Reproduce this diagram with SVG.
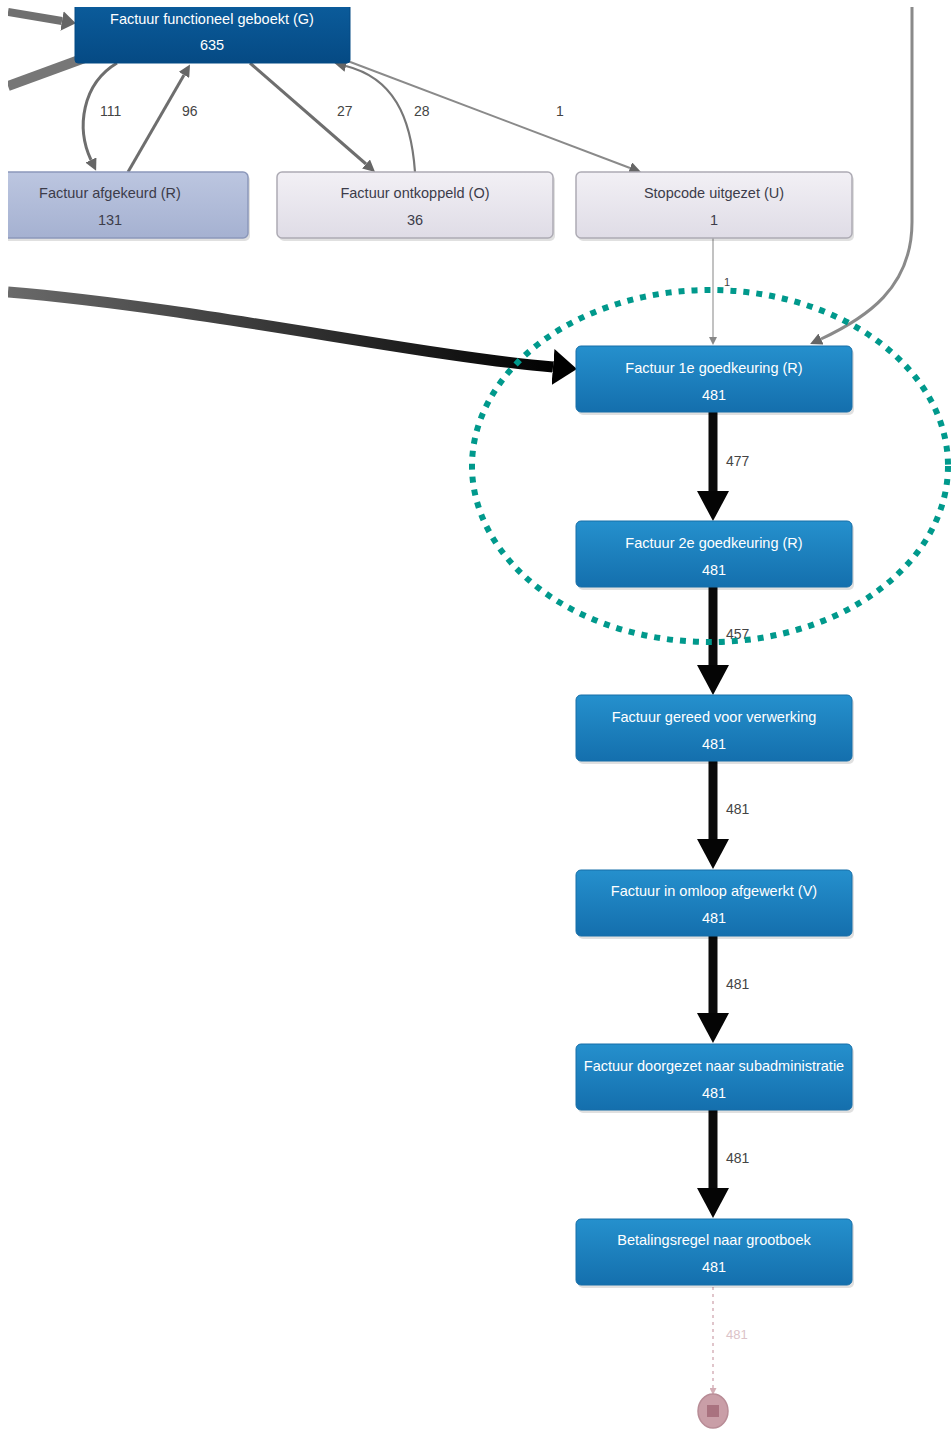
<svg xmlns="http://www.w3.org/2000/svg" width="951" height="1431" viewBox="0 0 951 1431">
  <defs>
    <linearGradient id="gBlue" x1="0" y1="0" x2="0" y2="1">
      <stop offset="0" stop-color="#2590cd"/>
      <stop offset="1" stop-color="#146fad"/>
    </linearGradient>
    <linearGradient id="gDark" x1="0" y1="0" x2="0" y2="1">
      <stop offset="0" stop-color="#0c5e9e"/>
      <stop offset="1" stop-color="#054a84"/>
    </linearGradient>
    <linearGradient id="gLav" x1="0" y1="0" x2="0" y2="1">
      <stop offset="0" stop-color="#bcc6e0"/>
      <stop offset="1" stop-color="#a5b1d1"/>
    </linearGradient>
    <linearGradient id="gGrey" x1="0" y1="0" x2="0" y2="1">
      <stop offset="0" stop-color="#f2f0f5"/>
      <stop offset="1" stop-color="#dfdce6"/>
    </linearGradient>
    <linearGradient id="gFlow" gradientUnits="userSpaceOnUse" x1="8" y1="0" x2="560" y2="0">
      <stop offset="0" stop-color="#6a6a6a"/>
      <stop offset="1" stop-color="#000"/>
    </linearGradient>
    <clipPath id="frame">
      <rect x="8" y="7" width="943" height="1424"/>
    </clipPath>
    <marker id="hBlack" markerUnits="userSpaceOnUse" markerWidth="30" markerHeight="32" viewBox="0 0 30 32" refX="0" refY="16" orient="auto">
      <path d="M0,0 L30,16 L0,32 z" fill="#050505"/>
    </marker>
    <marker id="hBlackL" markerUnits="userSpaceOnUse" markerWidth="24" markerHeight="36" viewBox="0 0 24 36" refX="0" refY="18" orient="auto">
      <path d="M0,0 L24,18 L0,36 z" fill="#000"/>
    </marker>
    <marker id="hGrey" markerUnits="userSpaceOnUse" markerWidth="12" markerHeight="12" viewBox="0 0 12 12" refX="0" refY="6" orient="auto">
      <path d="M0,0 L12,6 L0,12 z" fill="#666"/>
    </marker>
    <marker id="hGreyL" markerUnits="userSpaceOnUse" markerWidth="14" markerHeight="20" viewBox="0 0 14 20" refX="0" refY="10" orient="auto">
      <path d="M0,0 L14,10 L0,20 z" fill="#666"/>
    </marker>
    <marker id="hThin" markerUnits="userSpaceOnUse" markerWidth="8" markerHeight="8" viewBox="0 0 8 8" refX="0" refY="4" orient="auto">
      <path d="M0,0 L8,4 L0,8 z" fill="#888"/>
    </marker>
    <marker id="hPink" markerUnits="userSpaceOnUse" markerWidth="7" markerHeight="7" viewBox="0 0 7 7" refX="0" refY="3.5" orient="auto">
      <path d="M0,0 L7,3.5 L0,7 z" fill="#d3adb5"/>
    </marker>
    <style>
      .blue { fill: url(#gBlue); stroke: #176fa8; stroke-width: 1; }
      .dark { fill: url(#gDark); stroke: #054a84; stroke-width: 1; }
      .lav { fill: url(#gLav); stroke: #8c98ba; stroke-width: 1.5; }
      .grey { fill: url(#gGrey); stroke: #adabb4; stroke-width: 1.5; }
      .shadow { fill: #000; opacity: 0.12; }
      .lblW { font-family: "Liberation Sans", Arial, sans-serif; font-size: 14.5px; fill: #ffffff; text-anchor: middle; }
      .lblD { font-family: "Liberation Sans", Arial, sans-serif; font-size: 14.5px; fill: #3c3c4a; text-anchor: middle; }
      .edgeLbl { font-family: "Liberation Sans", Arial, sans-serif; font-size: 14px; fill: #444; }
      .flow { fill: none; stroke: #0a0a0a; stroke-width: 9; marker-end: url(#hBlack); }
      .side { fill: none; stroke: #6e6e6e; stroke-width: 3; }
    </style>
  </defs>

  <rect width="951" height="1431" fill="#ffffff"/>

  <g clip-path="url(#frame)">
    <!-- connectors -->
    <g id="connectors">
      <!-- incoming from the left into the booked node -->
      <path d="M8,12 L62,21" fill="none" stroke="#707070" stroke-width="8" marker-end="url(#hGreyL)"/>
      <path d="M8,86 L90,56" fill="none" stroke="#777" stroke-width="10"/>
      <!-- long incoming flow into first approval -->
      <path d="M8,292 C200,308 420,356 553,367" fill="none" stroke="url(#gFlow)" stroke-width="11" marker-end="url(#hBlackL)"/>
      <!-- booked <-> rejected -->
      <path d="M117,63 C82,84 76,128 91,160" class="side" marker-end="url(#hGrey)"/>
      <path d="M128,172 L184,75" class="side" marker-end="url(#hGrey)"/>
      <!-- booked <-> decoupled -->
      <path d="M250,63 L366,164" class="side" marker-end="url(#hGrey)"/>
      <path d="M415,172 C411,116 393,78 346,66" fill="none" stroke="#777" stroke-width="2.2" marker-end="url(#hGrey)"/>
      <!-- booked -> stop code -->
      <path d="M345,60 L630,168" fill="none" stroke="#8a8a8a" stroke-width="2" marker-end="url(#hGrey)"/>
      <!-- right-hand return into first approval -->
      <path d="M912,7 L912,222 C912,288 866,318 821,339" fill="none" stroke="#8a8a8a" stroke-width="3" marker-end="url(#hGrey)"/>
      <!-- stop code -> first approval -->
      <path d="M713,238 L713,337" fill="none" stroke="#999" stroke-width="1.2" marker-end="url(#hThin)"/>
      <!-- main chain -->
      <path d="M713,412 L713,491" class="flow"/>
      <path d="M713,587 L713,665" class="flow"/>
      <path d="M713,761 L713,839" class="flow"/>
      <path d="M713,936 L713,1013" class="flow"/>
      <path d="M713,1110 L713,1188" class="flow"/>
      <path d="M713,1287 L713,1388" fill="none" stroke="#d6b3ba" stroke-width="1.5" stroke-dasharray="3 4" marker-end="url(#hPink)"/>

      <text class="edgeLbl" x="100" y="116">111</text>
      <text class="edgeLbl" x="182" y="116">96</text>
      <text class="edgeLbl" x="337" y="116">27</text>
      <text class="edgeLbl" x="414" y="116">28</text>
      <text class="edgeLbl" x="556" y="116">1</text>
      <text class="edgeLbl" x="724" y="286" fill="#888" style="font-size:11px">1</text>
      <text class="edgeLbl" x="726" y="466">477</text>
      <text class="edgeLbl" x="726" y="639">457</text>
      <text class="edgeLbl" x="726" y="814">481</text>
      <text class="edgeLbl" x="726" y="989">481</text>
      <text class="edgeLbl" x="726" y="1163">481</text>
      <text class="edgeLbl" x="726" y="1339" style="fill:#dcc3c8;font-size:13px">481</text>
    </g>

    <!-- nodes -->
    <g id="n-geboekt">
      <rect class="dark" x="75" y="-3" width="275" height="66" rx="3"/>
      <text class="lblW" x="212" y="24">Factuur functioneel geboekt (G)</text>
      <text class="lblW" x="212" y="50">635</text>
    </g>
    <g id="n-afgekeurd">
      <rect class="shadow" x="-26" y="175" width="276" height="66" rx="5"/>
      <rect class="lav" x="-28" y="172" width="276" height="66" rx="5"/>
      <text class="lblD" x="110" y="198">Factuur afgekeurd (R)</text>
      <text class="lblD" x="110" y="225">131</text>
    </g>
    <g id="n-ontkoppeld">
      <rect class="shadow" x="279" y="175" width="276" height="66" rx="5"/>
      <rect class="grey" x="277" y="172" width="276" height="66" rx="5"/>
      <text class="lblD" x="415" y="198">Factuur ontkoppeld (O)</text>
      <text class="lblD" x="415" y="225">36</text>
    </g>
    <g id="n-stopcode">
      <rect class="shadow" x="578" y="175" width="276" height="66" rx="5"/>
      <rect class="grey" x="576" y="172" width="276" height="66" rx="5"/>
      <text class="lblD" x="714" y="198">Stopcode uitgezet (U)</text>
      <text class="lblD" x="714" y="225">1</text>
    </g>
    <g id="n-goedkeuring1">
      <rect class="shadow" x="578" y="349" width="276" height="66" rx="5"/>
      <rect class="blue" x="576" y="346" width="276" height="66" rx="5"/>
      <text class="lblW" x="714" y="373">Factuur 1e goedkeuring (R)</text>
      <text class="lblW" x="714" y="400">481</text>
    </g>
    <g id="n-goedkeuring2">
      <rect class="shadow" x="578" y="524" width="276" height="66" rx="5"/>
      <rect class="blue" x="576" y="521" width="276" height="66" rx="5"/>
      <text class="lblW" x="714" y="548">Factuur 2e goedkeuring (R)</text>
      <text class="lblW" x="714" y="575">481</text>
    </g>
    <g id="n-gereed">
      <rect class="shadow" x="578" y="698" width="276" height="66" rx="5"/>
      <rect class="blue" x="576" y="695" width="276" height="66" rx="5"/>
      <text class="lblW" x="714" y="722">Factuur gereed voor verwerking</text>
      <text class="lblW" x="714" y="749">481</text>
    </g>
    <g id="n-afgewerkt">
      <rect class="shadow" x="578" y="873" width="276" height="66" rx="5"/>
      <rect class="blue" x="576" y="870" width="276" height="66" rx="5"/>
      <text class="lblW" x="714" y="896">Factuur in omloop afgewerkt (V)</text>
      <text class="lblW" x="714" y="923">481</text>
    </g>
    <g id="n-doorgezet">
      <rect class="shadow" x="578" y="1047" width="276" height="66" rx="5"/>
      <rect class="blue" x="576" y="1044" width="276" height="66" rx="5"/>
      <text class="lblW" x="714" y="1071">Factuur doorgezet naar subadministratie</text>
      <text class="lblW" x="714" y="1098">481</text>
    </g>
    <g id="n-grootboek">
      <rect class="shadow" x="578" y="1222" width="276" height="66" rx="5"/>
      <rect class="blue" x="576" y="1219" width="276" height="66" rx="5"/>
      <text class="lblW" x="714" y="1245">Betalingsregel naar grootboek</text>
      <text class="lblW" x="714" y="1272">481</text>
    </g>
    <g id="n-einde">
      <ellipse cx="713" cy="1411" rx="15" ry="17" fill="#c99ea7" stroke="#b88c96" stroke-width="1.5"/>
      <rect x="707" y="1405" width="12" height="12" fill="#a9727f"/>
    </g>
  </g>

  <!-- highlight around the two approval steps -->
  <ellipse cx="710" cy="466" rx="238" ry="176" fill="none" stroke="#00998c" stroke-width="6" stroke-dasharray="6 7"/>
</svg>
